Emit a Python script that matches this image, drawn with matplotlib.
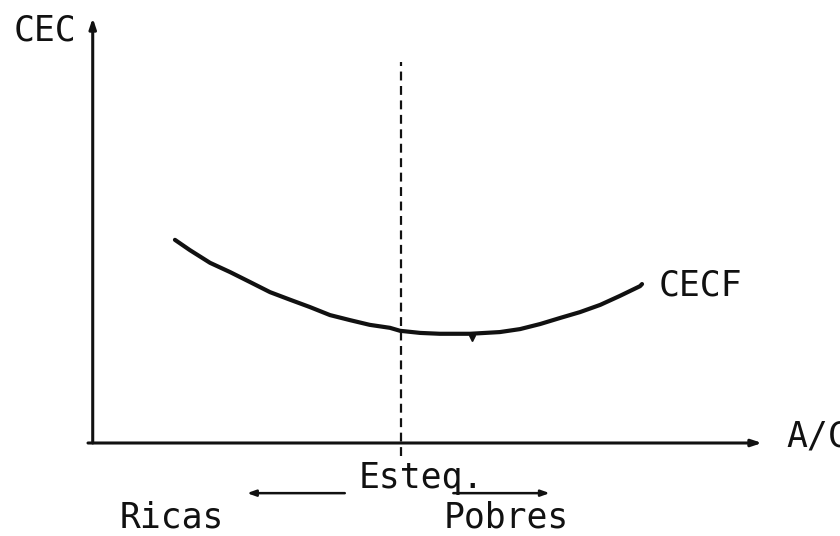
import matplotlib
matplotlib.use("Agg")
from matplotlib import pyplot as plt

# CEC vs A/C curve (schematic units, axis origin at 0,0)
ac_ratio = [1.29, 1.51, 1.81, 2.11, 2.40, 2.70, 3.00, 3.29, 3.59, 3.89, 4.18, 4.48,
            4.63, 4.93, 5.22, 5.67, 6.11, 6.41, 6.71, 7.00, 7.30, 7.60, 7.89, 8.19, 8.22]
cec_values = [4.78, 4.54, 4.24, 4.02, 3.79, 3.55, 3.37, 3.20, 3.01, 2.89, 2.78, 2.71,
              2.64, 2.59, 2.57, 2.57, 2.61, 2.68, 2.80, 2.94, 3.08, 3.25, 3.46, 3.69, 3.74]

# stoichiometric ratio and minimum mark
esteq_x = 4.64
minimum_x, minimum_y = 5.70, 2.46

# labels
y_label = "CEC"
x_label = "A/C"
curve_label = "CECF"
esteq_label = "Esteq."
rich_label = "Ricas"
lean_label = "Pobres"

INK = "#111111"
FONT = "DejaVu Sans Mono"

fig = plt.figure(figsize=(8.4, 5.36), dpi=100)
ax = fig.add_axes([88 / 840, 93 / 536, 674 / 840, 425 / 536])
ax.set_xlim(0, 10)
ax.set_ylim(0, 10)
ax.axis("off")

# axes with arrow heads
arrow_kw = dict(arrowstyle="-|>,head_length=0.6,head_width=0.2", color=INK, lw=2.2,
                shrinkA=0, shrinkB=0)
ax.annotate("", xy=(10.0, 0), xytext=(0, 0), arrowprops=arrow_kw, annotation_clip=False)
ax.annotate("", xy=(0.07, 10.0), xytext=(0.07, 0), arrowprops=arrow_kw, annotation_clip=False)

# stoichiometric line
ax.plot([esteq_x, esteq_x], [-0.3, 8.96], color=INK, lw=1.6, linestyle=(0, (4, 2.5)),
        clip_on=False)

# CECF curve
ax.plot(ac_ratio, cec_values, color=INK, lw=3, solid_capstyle="round",
        solid_joinstyle="round", clip_on=False)
ax.plot([minimum_x], [minimum_y], marker="v", markersize=5, color=INK, clip_on=False)

# rich / lean arrows
small_arrow = dict(arrowstyle="-|>,head_length=0.5,head_width=0.18", color=INK, lw=1.8,
                   shrinkA=0, shrinkB=0)
ax.annotate("", xy=(2.36, -1.18), xytext=(3.81, -1.18), arrowprops=small_arrow,
            annotation_clip=False)
ax.annotate("", xy=(6.85, -1.18), xytext=(5.42, -1.18), arrowprops=small_arrow,
            annotation_clip=False)

text_kw = dict(family=FONT, fontsize=25, color=INK, ha="left", va="baseline", clip_on=False)
ax.text(-1.11, 9.48, y_label, **text_kw)
ax.text(8.47, 3.48, curve_label, **text_kw)
ax.text(10.36, -0.09, x_label, **text_kw)
ax.text(4.01, -1.06, esteq_label, **text_kw)
ax.text(0.47, -2.0, rich_label, **text_kw)
ax.text(5.27, -2.0, lean_label, **text_kw)

fig.savefig("out.png", dpi=100, facecolor="white")
